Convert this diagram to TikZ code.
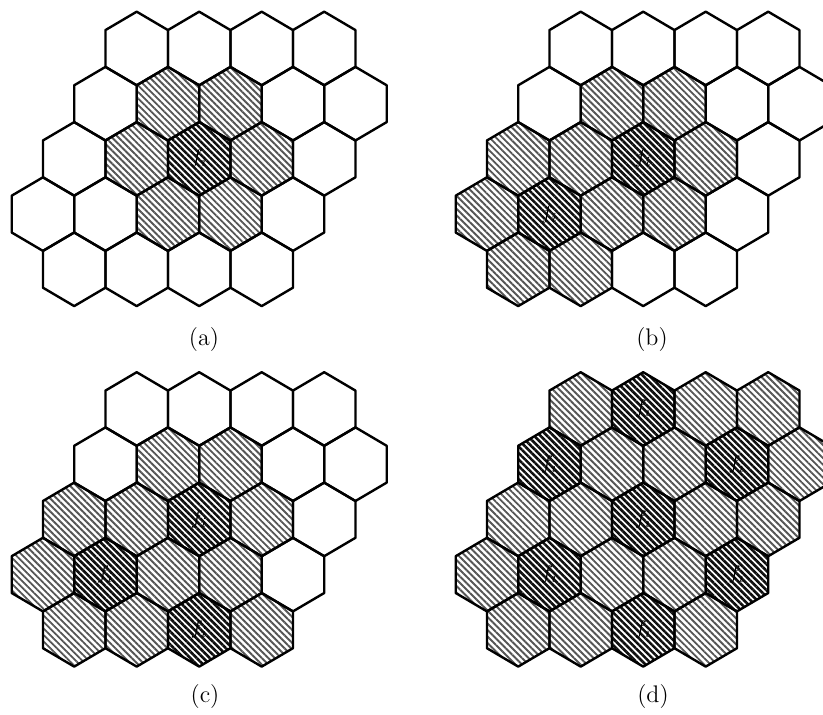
\documentclass[tikz,border=0pt]{standalone}
\usepackage{tikz}
\usepackage{xcolor}
\usetikzlibrary{patterns.meta}
\definecolor{EdgeCol}{RGB}{0,0,0}
\definecolor{HatchLt}{RGB}{85,85,85}
\definecolor{HatchDk}{RGB}{15,15,15}
\tikzset{
  hxedge/.style={line width=1.2pt, draw=EdgeCol, line join=round},
  hxlight/.style={pattern={Lines[angle=-45,distance=2.3pt,line width=0.95pt]}, pattern color=HatchLt},
  hxdark/.style={pattern={Lines[angle=-45,distance=2.3pt,line width=1.3pt]}, pattern color=HatchDk},
  hxlab/.style={font=\normalsize, inner sep=0.5pt},
  hxcap/.style={font=\fontsize{12}{14}\selectfont, inner sep=0pt}
}
% one pointy-top hexagon round the centre (#2,#3)
\newcommand{\HexAt}[3]{%
  \path[#1,shift={(#2,#3)}] (0,-36.8) -- (31.25,-18.4) -- (31.25,18.4) -- (0,36.8)
    -- (-31.25,18.4) -- (-31.25,-18.4) -- cycle;}
% the 23 cells of one panel, outlines only
\newcommand{\HexGrid}[2]{%
  \foreach \k/\r in {3/0,5/0,7/0,9/0,2/1,4/1,6/1,8/1,10/1,1/2,3/2,5/2,7/2,9/2,
                     0/3,2/3,4/3,6/3,8/3,1/4,3/4,5/4,7/4}
    {\HexAt{hxedge}{42.95+31.25*\k+#1}{48.5+55.2*\r+#2}}}
% hatched cells: #4 light, #5 dark (with f_i)
\newcommand{\HexCells}[5]{%
  \foreach \k/\r in {#4}
    {\HexAt{hxlight}{42.95+31.25*\k+#2}{48.5+55.2*\r+#3}}
  \foreach \k/\r in {#5}{
    \HexAt{hxdark}{42.95+31.25*\k+#2}{48.5+55.2*\r+#3}
    \node[hxlab] (#1-\k-\r) at ({42.95+31.25*\k+#2},{48.5+55.2*\r+#3}) {$f_i$};}}

\begin{document}
\begin{tikzpicture}[x=0.5pt,y=-0.5pt]
  \useasboundingbox (0,0) rectangle (823,715);
  % (a)
  \HexCells{pa}{0}{0}{4/1,6/1,3/2,7/2,4/3,6/3}{5/2}
  \HexGrid{0}{0}
  \node[hxcap] (capa) at (204,340) {(a)};
  % (b)
  \HexCells{pb}{444}{0}{4/1,6/1,1/2,3/2,7/2,0/3,4/3,6/3,1/4,3/4}{5/2,2/3}
  \HexGrid{444}{0}
  \node[hxcap] (capb) at (652,340) {(b)};
  % (c)
  \HexCells{pc}{0}{360.5}{4/1,6/1,1/2,3/2,7/2,0/3,4/3,6/3,1/4,3/4,7/4}{5/2,2/3,5/4}
  \HexGrid{0}{360.5}
  \node[hxcap] (capc) at (205,697) {(c)};
  % (d)
  \HexCells{pd}{444}{360.5}{3/0,7/0,9/0,4/1,6/1,10/1,1/2,3/2,7/2,9/2,0/3,4/3,6/3,1/4,3/4,7/4}{5/0,2/1,8/1,5/2,2/3,8/3,5/4}
  \HexGrid{444}{360.5}
  \node[hxcap] (capd) at (653,697) {(d)};
\end{tikzpicture}
\end{document}
